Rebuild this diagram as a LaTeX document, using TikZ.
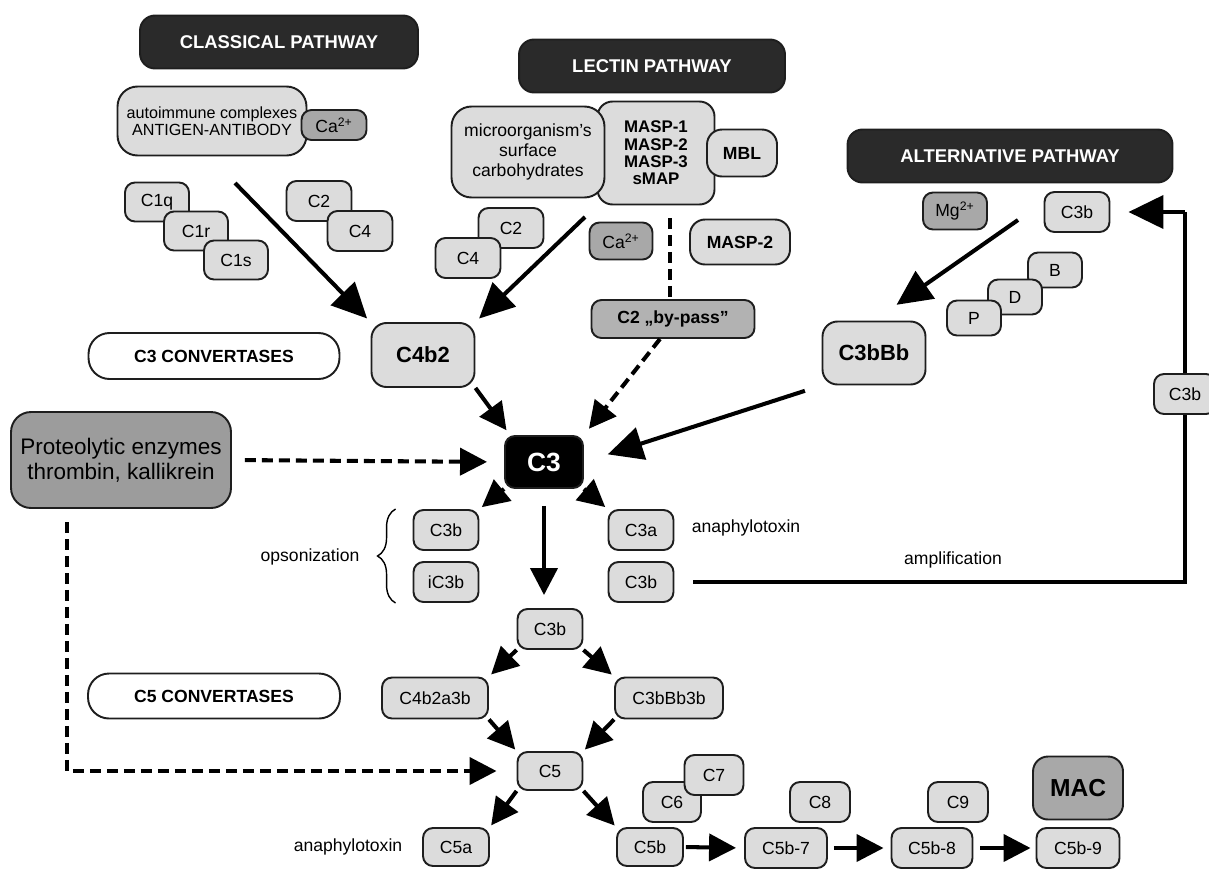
\documentclass[tikz,border=0pt]{standalone}
\usepackage{fontspec}
\setmainfont{Liberation Sans}
\usetikzlibrary{arrows.meta,decorations.pathreplacing}
\definecolor{boxgray}{HTML}{DCDCDC}
\definecolor{iongray}{HTML}{A8A8A8}
\definecolor{hdrgray}{HTML}{2A2A2A}
\definecolor{protgray}{HTML}{9C9C9C}
\definecolor{passgray}{HTML}{B2B2B2}
\definecolor{edgegray}{HTML}{1E1E1E}
\begin{document}
\begin{tikzpicture}[x=0.02cm,y=-0.02cm,
    comp/.style={draw=edgegray,line width=1.1pt,fill=boxgray,rounded corners=0.2cm,
        minimum width=1.3cm,minimum height=0.8cm,inner sep=0pt,font=\fontsize{10}{12}\selectfont},
    ion/.style={comp,fill=iongray,minimum height=0.74cm},
    hdr/.style={draw=edgegray,line width=1.1pt,fill=hdrgray,text=white,rounded corners=0.3cm,
        minimum height=1.06cm,font=\fontsize{10.5}{12}\selectfont\bfseries},
    conv/.style={comp,fill=white,rounded corners=0.42cm,minimum width=5.02cm,minimum height=0.92cm,
        font=\fontsize{10}{12}\selectfont\bfseries},
    big/.style={comp,rounded corners=0.3cm,font=\fontsize{12.5}{14}\selectfont\bfseries},
    note/.style={inner sep=0pt,font=\fontsize{10}{12}\selectfont},
    arr/.style={line width=2.3pt,-{Triangle[length=0.54cm,width=0.54cm]}},
    bigarr/.style={line width=2.3pt,-{Triangle[length=0.7cm,width=0.66cm]}},
    dasharr/.style={arr,dash pattern=on 0.22cm off 0.12cm}]
\useasboundingbox (0,0) rectangle (1209,869);

% pathway headers
\node[hdr,minimum width=5.56cm] (classical) at (279,42) {CLASSICAL PATHWAY};
\node[hdr,minimum width=5.32cm] (lectin) at (652,66) {LECTIN PATHWAY};
\node[hdr,minimum width=6.5cm] (alternative) at (1010,156) {ALTERNATIVE PATHWAY};

% classical pathway
\node[comp,rounded corners=0.4cm,minimum width=3.78cm,minimum height=1.38cm,align=center,
    font=\fontsize{9.2}{9.6}\selectfont] (autoimm) at (212,121) {autoimmune complexes\\ANTIGEN-ANTIBODY};
\node[ion,minimum height=0.6cm] (caone) at (334,125) {Ca\textsuperscript{2+}};
\node[comp,minimum width=1.28cm,minimum height=0.78cm] (cOneq) at (157,202) {C1q};
\node[comp,minimum width=1.28cm,minimum height=0.78cm] (cOner) at (196,231) {C1r};
\node[comp,minimum width=1.28cm,minimum height=0.78cm] (cOnes) at (236,260) {C1s};
\node[comp] (ctwoa) at (319,201) {C2};
\node[comp] (cfoura) at (360,231) {C4};
\coordinate (clstart) at (235,183);

% lectin pathway
\node[comp,rounded corners=0.3cm,minimum width=2.34cm,minimum height=2.06cm,align=center,
    font=\fontsize{9.6}{9.8}\selectfont\bfseries] (masp) at (656,153) {MASP-1\\MASP-2\\MASP-3\\sMAP};
\node[comp,rounded corners=0.4cm,minimum width=3.06cm,minimum height=1.82cm,align=center,
    font=\fontsize{10}{11.4}\selectfont] (micro) at (528,152) {microorganism's\\surface\\carbohydrates};
\node[comp,rounded corners=0.3cm,minimum width=1.4cm,minimum height=0.94cm,
    font=\fontsize{10}{12}\selectfont\bfseries] (mbl) at (742,153) {MBL};
\node[comp] (ctwob) at (511,228) {C2};
\node[comp] (cfourb) at (468,258) {C4};
\node[ion,minimum width=1.26cm] (catwo) at (621,241) {Ca\textsuperscript{2+}};
\node[comp,rounded corners=0.3cm,minimum width=2cm,minimum height=0.9cm,
    font=\fontsize{10}{12}\selectfont\bfseries] (masptwo) at (740,242) {MASP-2};
\node[comp,fill=passgray,minimum width=3.26cm,minimum height=0.76cm,
    font=\fontsize{10}{12}\selectfont\bfseries] (bypass) at (673,319) {C2 „by-pass”};
\coordinate (lecstart) at (585,217);
\coordinate (lecdash) at (670,218);

% alternative pathway
\node[ion,minimum width=1.28cm] (mg) at (955,211) {Mg\textsuperscript{2+}};
\node[comp] (cthreebalt) at (1077,212) {C3b};
\node[comp,minimum width=1.08cm,minimum height=0.7cm] (fb) at (1055,270) {B};
\node[comp,minimum width=1.08cm,minimum height=0.7cm] (fd) at (1015,297) {D};
\node[comp,minimum width=1.08cm,minimum height=0.7cm] (fp) at (974,318) {P};
\node[big,minimum width=2.06cm,minimum height=1.26cm] (cthreebbb) at (874,353) {C3bBb};
\coordinate (altstart) at (1018,220);

% C3 convertases and C3
\node[conv] (convthree) at (214,356) {C3 CONVERTASES};
\node[big,minimum width=2.06cm,minimum height=1.28cm] (cfourbtwo) at (423,355) {C4b2};
\node[comp,fill=protgray,rounded corners=0.4cm,minimum width=4.4cm,minimum height=1.92cm,align=center,
    font=\fontsize{12.8}{14.2}\selectfont] (prot) at (121,460) {Proteolytic enzymes\\thrombin, kallikrein};
\node[comp,fill=black,text=white,minimum width=1.56cm,minimum height=1.04cm,
    font=\fontsize{15}{16}\selectfont\bfseries] (cthree) at (544,462) {C3};
\coordinate (protdown) at (67,522);

\draw[bigarr,shorten >=0.1cm] (clstart) -- (cfourbtwo.north west);
\draw[bigarr,shorten >=0.1cm] (lecstart) -- (cfourbtwo.north east);
\draw[line width=2.3pt,dash pattern=on 0.22cm off 0.12cm] (lecdash) -- (lecdash |- bypass.north);
\draw[bigarr,shorten >=0.55cm] (altstart) -- (cthreebbb.north);
\draw[arr,shorten >=0.12cm] (cfourbtwo.south east) -- ([xshift=0.12cm]cthree.north west);
\draw[dasharr,shorten >=0.16cm] ([xshift=-0.26cm]bypass.south) -- (cthree.north east);
\draw[bigarr,shorten <=0.35cm,shorten >=0.5cm] (cthreebbb.south west) -- (cthree.east);
\draw[dasharr,shorten <=0.26cm,shorten >=0.34cm] (prot.east) -- (cthree.west);

% C3 split
\node[comp] (cthreebop) at (446,530) {C3b};
\node[comp] (icthreeb) at (446,582) {iC3b};
\node[comp] (cthreea) at (641,530) {C3a};
\node[comp] (cthreebam) at (641,582) {C3b};
\node[note] (anaone) at (746,528) {anaphylotoxin};
\node[note] (opson) at (310,557) {opsonization};
\draw[line width=0.8pt,decorate,decoration={brace,amplitude=0.36cm}]
    ([xshift=-0.34cm]icthreeb.south west) -- ([xshift=-0.34cm]cthreebop.north west);
\draw[arr,shorten >=0.06cm] (cthree.south west) -- (cthreebop.north east);
\draw[arr,shorten >=0.06cm] (cthree.south east) -- (cthreea.north west);

% amplification loop
\coordinate (amp) at (1185,582);
\draw[line width=2.3pt,shorten <=0.38cm] (cthreebam.east) -- (amp) -- (amp |- cthreebalt.east);
\draw[bigarr,shorten >=0.36cm] (amp |- cthreebalt.east) -- (cthreebalt.east);
\node[comp,minimum width=1.24cm] (cthreebside) at (1185,394) {C3b};
\node[note] (amplif) at (953,560) {amplification};

% C5 convertases
\node[comp] (cthreebmid) at (550,629) {C3b};
\draw[arr,shorten <=0.34cm,shorten >=0.26cm] (cthree.south) -- (cthree.south |- cthreebmid.north);
\node[comp,minimum width=2.12cm,minimum height=0.82cm] (cfourbtwoathreeb) at (435,698) {C4b2a3b};
\node[comp,minimum width=2.16cm,minimum height=0.82cm] (cthreebbbthreeb) at (669,698) {C3bBb3b};
\node[conv,minimum width=5.04cm,minimum height=0.9cm] (convfive) at (214,696) {C5 CONVERTASES};
\node[comp,minimum height=0.76cm] (cfive) at (550,771) {C5};
\draw[arr,shorten >=0.06cm] (cthreebmid.south west) -- (cfourbtwoathreeb.north east);
\draw[arr,shorten >=0.06cm] (cthreebmid.south east) -- (cthreebbbthreeb.north west);
\draw[arr,shorten >=0.04cm] (cfourbtwoathreeb.south east) -- (cfive.north west);
\draw[arr,shorten >=0.04cm] (cthreebbbthreeb.south west) -- (cfive.north east);
\draw[dasharr,shorten >=0.4cm] (protdown) |- (cfive.west);

% terminal pathway
\node[comp,minimum width=1.32cm,minimum height=0.76cm] (cfivea) at (456,847) {C5a};
\node[comp,minimum width=1.32cm,minimum height=0.76cm] (cfiveb) at (650,847) {C5b};
\node[note] (anatwo) at (348,847) {anaphylotoxin};
\draw[arr,shorten >=0.04cm] (cfive.south west) -- (cfivea.north east);
\draw[arr,shorten >=0.04cm] (cfive.south east) -- (cfiveb.north west);
\node[comp,minimum width=1.16cm] (csix) at (672,802) {C6};
\node[comp,minimum width=1.18cm] (cseven) at (714,775) {C7};
\node[comp,minimum width=1.2cm] (ceight) at (820,802) {C8};
\node[comp,minimum width=1.2cm] (cnine) at (958,802) {C9};
\node[comp,minimum width=1.64cm] (cfivebseven) at (786,848) {C5b-7};
\node[comp,minimum width=1.62cm] (cfivebeight) at (932,848) {C5b-8};
\node[comp,minimum width=1.66cm] (cfivebnine) at (1078,848) {C5b-9};
\node[comp,fill=iongray,rounded corners=0.3cm,minimum width=1.8cm,minimum height=1.26cm,
    font=\fontsize{14}{16}\selectfont\bfseries] (mac) at (1078,788) {MAC};
\draw[arr,shorten <=0.04cm,shorten >=0.16cm] (cfiveb.east) -- (cfivebseven.west);
\draw[arr,shorten <=0.12cm,shorten >=0.14cm] (cfivebseven.east) -- (cfivebeight.west);
\draw[arr,shorten <=0.14cm,shorten >=0.1cm] (cfivebeight.east) -- (cfivebnine.west);
\end{tikzpicture}
\end{document}
